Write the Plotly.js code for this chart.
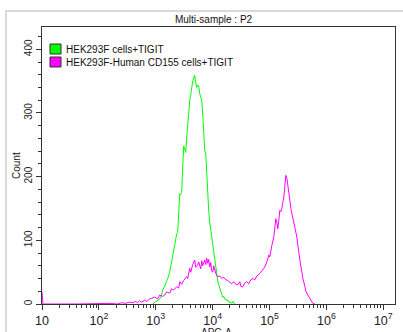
<!DOCTYPE html>
<html>
<head>
<meta charset="utf-8">
<script src="https://cdn.plot.ly/plotly-3.0.1.min.js"></script>
<style>html,body{margin:0;padding:0;background:#fff;}#chart{width:403px;height:332px;}</style>
</head>
<body>
<div id="chart"></div>
<script>
// Sample names
const seriesNames = ["HEK293F cells+TIGIT", "HEK293F-Human CD155 cells+TIGIT"];
const seriesColors = ["#00ff00", "#ff00ff"];
const xTitle = "APC-A";
const yTitle = "Count";

// HEK293F cells+TIGIT (APC-A intensity, event count)
const greenX = [882, 956, 1037, 1125, 1171, 1270, 1323, 1434, 1555, 1687, 1757, 1905, 1984, 2151, 2241, 2333, 2430, 2530, 2636, 2745, 2858, 2977, 3100, 3228, 3361, 3500, 3645, 3796, 3953, 4116, 4286, 4464, 4649, 4841, 5041, 5250, 5467, 5693, 5929, 6174, 6429, 6695, 6972, 7261, 7561, 7873, 8199, 8538, 8891, 9259, 9642, 10040, 10460, 10890, 11340, 11810, 12300, 12800, 13340, 13890, 14460, 15060, 15680, 16330, 17010, 17710, 18450, 19210, 20010, 20830, 21700, 22600, 23530, 24500];
const greenCount = [0, 2, 5, 6, 8, 14, 22, 28, 35, 44, 50, 68, 79, 95, 102, 110, 112, 140, 173, 172, 175, 215, 248, 243, 238, 262, 285, 305, 319, 328, 342, 350, 355, 359, 348, 340, 344, 342, 330, 324, 320, 300, 260, 240, 238, 200, 165, 145, 128, 116, 105, 96, 84, 74, 55, 43, 36, 30, 24, 20, 15, 11, 12, 8, 6, 7, 4, 5, 2, 3, 1, 4, 1, 0];

// HEK293F-Human CD155 cells+TIGIT (APC-A intensity, event count)
const magentaX = [10, 10.4, 40, 91, 103, 154, 213, 251, 295, 347, 392, 443, 480, 521, 565, 638, 692, 781, 847, 956, 1080, 1171, 1323, 1434, 1555, 1757, 1905, 2066, 2333, 2530, 2636, 2858, 3100, 3500, 3645, 3953, 4116, 4464, 4841, 5041, 5467, 5693, 6174, 6429, 6695, 7261, 7561, 7873, 8199, 8538, 8891, 9259, 9642, 10040, 10460, 11340, 12300, 13340, 14460, 15680, 17010, 18450, 20010, 21700, 23530, 25510, 27670, 30000, 31240, 33880, 36740, 39850, 43210, 46860, 50820, 55110, 59760, 64810, 70280, 76210, 82650, 89630, 93330, 97190, 101200, 105400, 109800, 119000, 124000, 129100, 134400, 140000, 145800, 151800, 158100, 164600, 171500, 178600, 185900, 193600, 201600, 210000, 218700, 227700, 237100, 247000, 257200, 267800, 278900, 290400, 302400, 314900, 328000, 341500, 370400, 385700, 418200, 435600, 472300, 512200, 555500, 578400, 627200];
const magentaCount = [19, 0, 0, 1, 0, 1, 0, 2, 1, 3, 2, 4, 2, 5, 3, 6, 4, 8, 9, 11, 8, 14, 12, 14, 19, 17, 24, 22, 27, 25, 35, 31, 37, 43, 40, 56, 50, 62, 69, 58, 61, 66, 55, 68, 60, 69, 62, 72, 64, 70, 58, 65, 52, 50, 60, 48, 43, 44, 40, 42, 38, 37, 34, 32, 35, 31, 30, 35, 28, 27, 33, 35, 32, 38, 40, 38, 44, 46, 50, 54, 58, 66, 71, 77, 74, 88, 92, 105, 118, 134, 128, 118, 132, 147, 145, 150, 160, 168, 185, 202, 198, 188, 175, 163, 150, 142, 138, 128, 122, 116, 105, 92, 78, 69, 50, 40, 28, 20, 14, 9, 4, 1, 0];

const yTickVals = [0, 100, 200, 300, 400];

const FONT = "Liberation Sans, Arial, sans-serif";

const traces = [
  {x: greenX, y: greenCount, type: "scatter", mode: "lines", name: seriesNames[0],
   line: {color: seriesColors[0], width: 1}, showlegend: false, hoverinfo: "skip"},
  {x: magentaX, y: magentaCount, type: "scatter", mode: "lines", name: seriesNames[1],
   line: {color: seriesColors[1], width: 1}, showlegend: false, hoverinfo: "skip"}
];

// plot area in pixels: left 42, right 395, top 27, bottom 304
const L = 42, R = 395, T = 27, B = 304;
const pw = R - L, ph = B - T;
const px = v => (v - L) / pw;
const py = v => (B - v) / ph;

const shapes = [
  {type: "rect", xref: "paper", yref: "paper", x0: px(6), x1: px(420), y0: py(340), y1: py(11),
   line: {color: "#d9d9d9", width: 2}, fillcolor: "rgba(0,0,0,0)", layer: "below"},
  {type: "rect", xref: "paper", yref: "paper", x0: px(50), x1: px(61), y0: py(54), y1: py(44),
   line: {color: "#333", width: 1}, fillcolor: seriesColors[0]},
  {type: "rect", xref: "paper", yref: "paper", x0: px(50), x1: px(61), y0: py(67), y1: py(57),
   line: {color: "#333", width: 1}, fillcolor: seriesColors[1]}
];

const annotations = [
  {xref: "paper", yref: "paper", x: px(64), y: py(49.5), xanchor: "left", yanchor: "middle",
   text: seriesNames[0], showarrow: false, font: {family: FONT, size: 10, color: "#111"}},
  {xref: "paper", yref: "paper", x: px(64), y: py(62), xanchor: "left", yanchor: "middle",
   text: seriesNames[1], showarrow: false, font: {family: FONT, size: 10, color: "#111"}},
  {xref: "paper", yref: "paper", x: px(216), y: py(325), xanchor: "center", yanchor: "top",
   text: xTitle, showarrow: false, font: {family: FONT, size: 10, color: "#222"}},
  {xref: "paper", yref: "paper", x: px(16), y: py(166), xanchor: "center", yanchor: "middle",
   text: yTitle, textangle: -90, showarrow: false, font: {family: FONT, size: 10, color: "#222"}}
];

const layout = {
  width: 403, height: 332,
  margin: {l: L, r: 403 - R, t: T, b: 332 - B, pad: 0},
  paper_bgcolor: "#fff", plot_bgcolor: "#fff",
  font: {family: FONT, size: 10, color: "#222"},
  title: {text: "Multi-sample : P2", font: {family: FONT, size: 10, color: "#111"},
          x: 213.5 / 403, xref: "container", xanchor: "center", y: 1 - 19 / 332, yanchor: "middle"},
  xaxis: {
    type: "log", range: [1, 7.206], dtick: 1, exponentformat: "power",
    showline: true, linecolor: "#333", linewidth: 1, mirror: true,
    ticks: "outside", ticklen: 5, tickcolor: "#333", tickwidth: 1,
    minor: {ticks: "outside", ticklen: 3, tickcolor: "#333", dtick: "D1", showgrid: false},
    showgrid: false, zeroline: false,
    tickfont: {family: FONT, size: 10, color: "#222"}
  },
  yaxis: {
    range: [0, 435], tickvals: yTickVals, tickangle: -90,
    showline: true, linecolor: "#333", linewidth: 1, mirror: true,
    ticks: "outside", ticklen: 5, tickcolor: "#333", tickwidth: 1,
    minor: {ticks: "outside", ticklen: 3, tickcolor: "#333", dtick: 20, showgrid: false},
    showgrid: false, zeroline: false,
    tickfont: {family: FONT, size: 10, color: "#222"}
  },
  shapes: shapes,
  annotations: annotations,
  showlegend: false
};

Plotly.newPlot("chart", traces, layout, {staticPlot: true, displayModeBar: false});
</script>
</body>
</html>
